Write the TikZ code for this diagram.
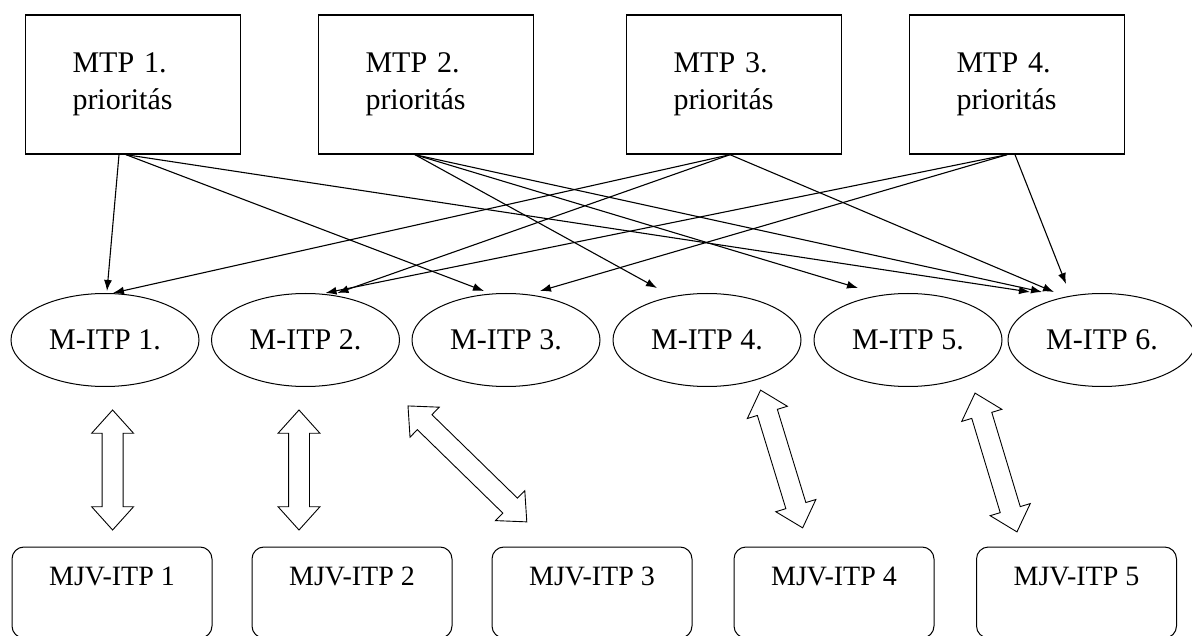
\documentclass[tikz,border=0pt]{standalone}
\usepackage{fontspec}
\setmainfont{Liberation Serif}
\usetikzlibrary{arrows.meta,shapes.geometric,shapes.arrows}

\begin{document}
\begin{tikzpicture}[x=1pt,y=-1pt,
  prio/.style={draw,line width=1.4pt,minimum height=139pt,text width=121pt,align=left,inner xsep=47pt,font=\fontsize{30}{37}\selectfont},
  mitp/.style={draw,ellipse,line width=1pt,inner sep=0pt,minimum width=188pt,minimum height=93pt,font=\fontsize{30}{36}\selectfont},
  mjv/.style={draw,rounded corners=12pt,line width=1pt,minimum width=200pt,inner ysep=10pt,text height=28pt,text depth=43pt,font=\fontsize{28}{34}\selectfont},
  link/.style={-{Latex[length=11pt,width=8pt]},line width=1.1pt},
  dbl/.style={draw,double arrow,line width=0.9pt,inner sep=10pt,double arrow head extend=10.5pt,double arrow tip angle=84}]
\useasboundingbox (0,0) rectangle (1192,636);
\clip (0,0) rectangle (1192,636);
% priorities
\node[prio] (m1) at (133,84.5) {MTP 1.\\prioritás};
\node[prio] (m2) at (426,84.5) {MTP 2.\\prioritás};
\node[prio] (m3) at (734,84.5) {MTP 3.\\prioritás};
\node[prio] (m4) at (1017,84.5) {MTP 4.\\prioritás};
% M-ITP
\node[mitp] (e1) at (105,340) {M-ITP 1.};
\node[mitp] (e2) at (305.5,340) {M-ITP 2.};
\node[mitp] (e3) at (506,340) {M-ITP 3.};
\node[mitp] (e4) at (707,340) {M-ITP 4.};
\node[mitp] (e5) at (908,340) {M-ITP 5.};
\node[mitp] (e6) at (1102,340) {M-ITP 6.};
% MJV-ITP
\node[mjv] (j1) at (112,592.5) {MJV-ITP 1};
\node[mjv] (j2) at (352,592.5) {MJV-ITP 2};
\node[mjv] (j3) at (592,592.5) {MJV-ITP 3};
\node[mjv] (j4) at (834,592.5) {MJV-ITP 4};
\node[mjv] (j5) at (1076.5,592.5) {MJV-ITP 5};
% double arrows
\node[dbl,rotate=90,minimum height=120pt] (d1) at (112.6,470) {};
\node[dbl,rotate=90,minimum height=120pt] (d2) at (299,470) {};
\node[dbl,rotate=-44.3,minimum height=166pt] (d3) at (467.4,463.9) {};
\node[dbl,rotate=-73,minimum height=144pt] (d4) at (781.6,459) {};
\node[dbl,rotate=-73.2,minimum height=145pt] (d5) at (996,462.5) {};
% links
\draw[link] ([xshift=-14pt]m1.south) -- ([xshift=2pt,yshift=2pt]e1.north);
\draw[link] ([xshift=-7pt]m1.south) -- ([xshift=-22pt,yshift=2pt]e3.north);
\draw[link] ([xshift=-7pt]m1.south) -- ([xshift=-72pt,yshift=1pt]e6.north);
\draw[link] ([xshift=-11pt]m2.south) -- ([xshift=-50pt,yshift=5pt]e4.north);
\draw[link] ([xshift=-11pt]m2.south) -- ([xshift=-50pt,yshift=5pt]e5.north);
\draw[link] ([xshift=-11pt]m2.south) -- ([xshift=-60pt,yshift=1pt]e6.north);
\draw[link] ([xshift=-4pt]m3.south) -- ([xshift=8pt]e1.north);
\draw[link] ([xshift=-4pt]m3.south) -- ([xshift=32pt]e2.north);
\draw[link] ([xshift=-4pt]m3.south) -- ([xshift=-48pt,yshift=1pt]e6.north);
\draw[link] ([xshift=-10pt]m4.south) -- ([xshift=20pt]e2.north);
\draw[link] ([xshift=-10pt]m4.south) -- ([xshift=34pt,yshift=2pt]e3.north);
\draw[link] ([xshift=-2pt]m4.south) -- ([xshift=-36pt,yshift=9pt]e6.north);
\end{tikzpicture}
\end{document}
